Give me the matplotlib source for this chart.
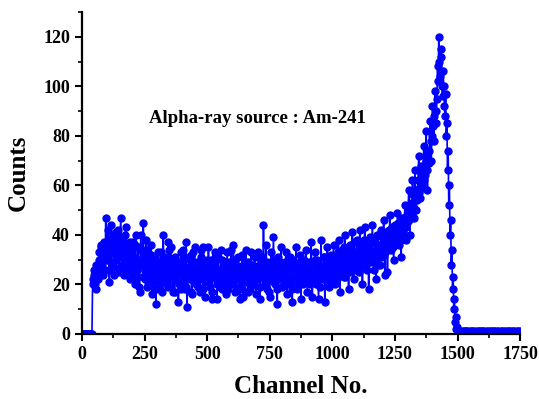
import numpy as np
import matplotlib
matplotlib.use('Agg')
import matplotlib.pyplot as plt
from matplotlib.ticker import MultipleLocator

plt.rcParams['font.family'] = ['Liberation Serif', 'DejaVu Serif']
plt.rcParams['font.weight'] = 'bold'

# channel grid (every 2.5 channels)
channels = np.arange(0, 1752.5, 2.5)

# counts at channels 0, 5, 10, ... (20 values per 100 channels)
counts_0 = [0, 0, 0, 0, 0, 0, 0, 0, 0, 22, 26, 18, 27, 24, 30, 35, 28, 33, 37, 47]
counts_100 = [30, 42, 21, 44, 33, 38, 27, 41, 35, 42, 31, 47, 28, 38, 24, 43, 30, 36, 22, 33]
counts_200 = [27, 37, 20, 40, 26, 35, 17, 40, 29, 45, 22, 34, 19, 33, 25, 36, 16, 30, 23, 12]
counts_300 = [26, 33, 21, 29, 17, 40, 24, 31, 20, 37, 26, 35, 22, 30, 17, 28, 24, 13, 29, 33]
counts_400 = [21, 34, 18, 37, 11, 27, 23, 32, 16, 26, 35, 20, 29, 24, 17, 31, 23, 35, 15, 28]
counts_500 = [25, 35, 19, 30, 14, 27, 33, 22, 14, 31, 26, 34, 18, 24, 29, 16, 33, 22, 27, 34]
counts_600 = [20, 36, 17, 28, 23, 31, 14, 26, 32, 15, 24, 34, 21, 29, 18, 33, 25, 20, 31, 16]
counts_700 = [27, 33, 14, 25, 30, 44, 22, 36, 18, 26, 15, 33, 22, 39, 20, 28, 12, 31, 24, 35]
counts_800 = [19, 28, 23, 33, 16, 27, 31, 21, 13, 29, 24, 35, 18, 27, 32, 14, 25, 30, 21, 34]
counts_900 = [17, 29, 24, 37, 15, 26, 33, 20, 30, 14, 27, 38, 22, 31, 13, 28, 35, 19, 27, 32]
counts_1000 = [24, 36, 20, 31, 27, 38, 17, 29, 34, 23, 40, 26, 32, 18, 36, 28, 41, 22, 33, 27]
counts_1100 = [38, 25, 42, 30, 20, 36, 43, 28, 34, 18, 39, 31, 44, 26, 37, 22, 40, 33, 28, 42]
counts_1200 = [35, 46, 24, 39, 25, 42, 48, 34, 40, 30, 44, 38, 49, 36, 43, 31, 47, 40, 52, 38]
counts_1300 = [45, 58, 40, 52, 62, 47, 66, 50, 58, 72, 55, 68, 60, 76, 64, 82, 58, 74, 86, 70]
counts_1400 = [92, 78, 98, 85, 108, 120, 104, 112, 96, 100, 88, 80, 66, 52, 40, 28, 18, 10, 5, 2]
counts_1500 = [1, 0, 1, 0, 0, 1, 0, 1, 1, 0, 0, 1, 0, 0, 1, 0, 1, 0, 0, 1]
counts_1600 = [0, 1, 0, 0, 1, 0, 0, 1, 0, 1, 0, 0, 1, 0, 0, 1, 0, 1, 0, 0]
counts_1700 = [1, 0, 0, 1, 0, 1, 0, 0, 1, 0, 1]

# counts at channels 2.5, 7.5, 12.5, ... (20 values per 100 channels)
mid_0 = [0, 0, 0, 0, 0, 0, 0, 0, 20, 24, 20, 28, 22, 33, 26, 36, 24, 30, 26, 34]
mid_100 = [35, 26, 38, 29, 40, 24, 36, 30, 33, 25, 39, 32, 36, 27, 40, 26, 34, 29, 37, 25]
mid_200 = [31, 24, 36, 22, 30, 19, 28, 34, 23, 31, 26, 38, 21, 29, 24, 32, 20, 27, 31, 18]
mid_300 = [24, 29, 18, 33, 25, 21, 30, 27, 19, 34, 23, 28, 17, 26, 31, 22, 27, 20, 25, 18]
mid_400 = [28, 24, 31, 19, 26, 22, 30, 17, 33, 21, 27, 25, 19, 29, 22, 34, 18, 26, 24, 30]
mid_500 = [21, 28, 24, 17, 29, 23, 31, 20, 26, 22, 19, 30, 24, 28, 21, 25, 18, 29, 23, 27]
mid_600 = [26, 23, 30, 19, 27, 22, 25, 18, 28, 21, 29, 24, 17, 26, 23, 28, 20, 27, 22, 25]
mid_700 = [22, 28, 19, 31, 24, 26, 20, 29, 23, 17, 27, 25, 30, 21, 26, 18, 28, 22, 29, 24]
mid_800 = [25, 21, 29, 20, 26, 23, 28, 18, 30, 22, 27, 19, 25, 21, 29, 24, 20, 28, 23, 26]
mid_900 = [23, 27, 20, 29, 24, 21, 30, 25, 22, 28, 19, 26, 23, 31, 25, 21, 28, 24, 29, 22]
mid_1000 = [30, 25, 27, 22, 33, 24, 31, 26, 28, 35, 23, 30, 27, 34, 25, 32, 29, 37, 26, 31]
mid_1100 = [30, 35, 27, 33, 29, 38, 31, 26, 36, 32, 29, 37, 33, 30, 39, 34, 28, 36, 31, 35]
mid_1200 = [39, 32, 41, 36, 34, 40, 37, 43, 35, 39, 42, 37, 45, 40, 38, 44, 41, 47, 43, 48]
mid_1300 = [50, 46, 53, 48, 56, 51, 58, 54, 62, 57, 65, 59, 67, 62, 70, 66, 74, 69, 78, 80]
mid_1400 = [84, 88, 90, 95, 102, 110, 115, 100, 106, 92, 97, 85, 74, 60, 46, 34, 23, 14, 7, 3]
mid_1500 = [0, 1, 0, 0, 1, 0, 1, 0, 0, 0, 1, 0, 1, 0, 0, 0, 1, 0, 1, 0]
mid_1600 = [1, 0, 0, 1, 0, 0, 1, 0, 0, 1, 0, 1, 0, 0, 0, 1, 0, 0, 1, 0]
mid_1700 = [0, 1, 0, 0, 1, 0, 0, 1, 0, 0]

main = (counts_0 + counts_100 + counts_200 + counts_300 + counts_400
        + counts_500 + counts_600 + counts_700 + counts_800 + counts_900
        + counts_1000 + counts_1100 + counts_1200 + counts_1300
        + counts_1400 + counts_1500 + counts_1600 + counts_1700)
mid = (mid_0 + mid_100 + mid_200 + mid_300 + mid_400 + mid_500 + mid_600
       + mid_700 + mid_800 + mid_900 + mid_1000 + mid_1100 + mid_1200
       + mid_1300 + mid_1400 + mid_1500 + mid_1600 + mid_1700)

counts = np.empty(len(channels))
counts[0::2] = main
counts[1::2] = mid

fig = plt.figure(figsize=(5.39, 3.99), dpi=100)
ax = fig.add_axes([0.152, 0.163, 0.813, 0.807])

ax.plot(channels, counts, color='blue', lw=1.2, marker='o', ms=5.0,
        mfc='blue', mec='blue')

ax.text(700, 87, 'Alpha-ray source : Am-241', ha='center', va='center',
        fontsize=13.5, fontweight='bold')

ax.set_xlim(0, 1750)
ax.set_ylim(0, 130)
ax.xaxis.set_major_locator(MultipleLocator(250))
ax.xaxis.set_minor_locator(MultipleLocator(125))
ax.set_yticks([0, 20, 40, 60, 80, 100, 120])
ax.yaxis.set_minor_locator(MultipleLocator(10))

ax.spines['top'].set_visible(False)
ax.spines['right'].set_visible(False)
ax.spines['left'].set_linewidth(1.6)
ax.spines['bottom'].set_linewidth(1.6)
ax.tick_params(which='major', direction='out', length=5, width=1.5,
               labelsize=13)
ax.tick_params(which='minor', direction='out', length=3, width=1.2)

ax.set_xlabel('Channel No.', fontsize=18, fontweight='bold', labelpad=9)
ax.set_ylabel('Counts', fontsize=18, fontweight='bold', labelpad=10)

fig.savefig('out.png', dpi=100)
